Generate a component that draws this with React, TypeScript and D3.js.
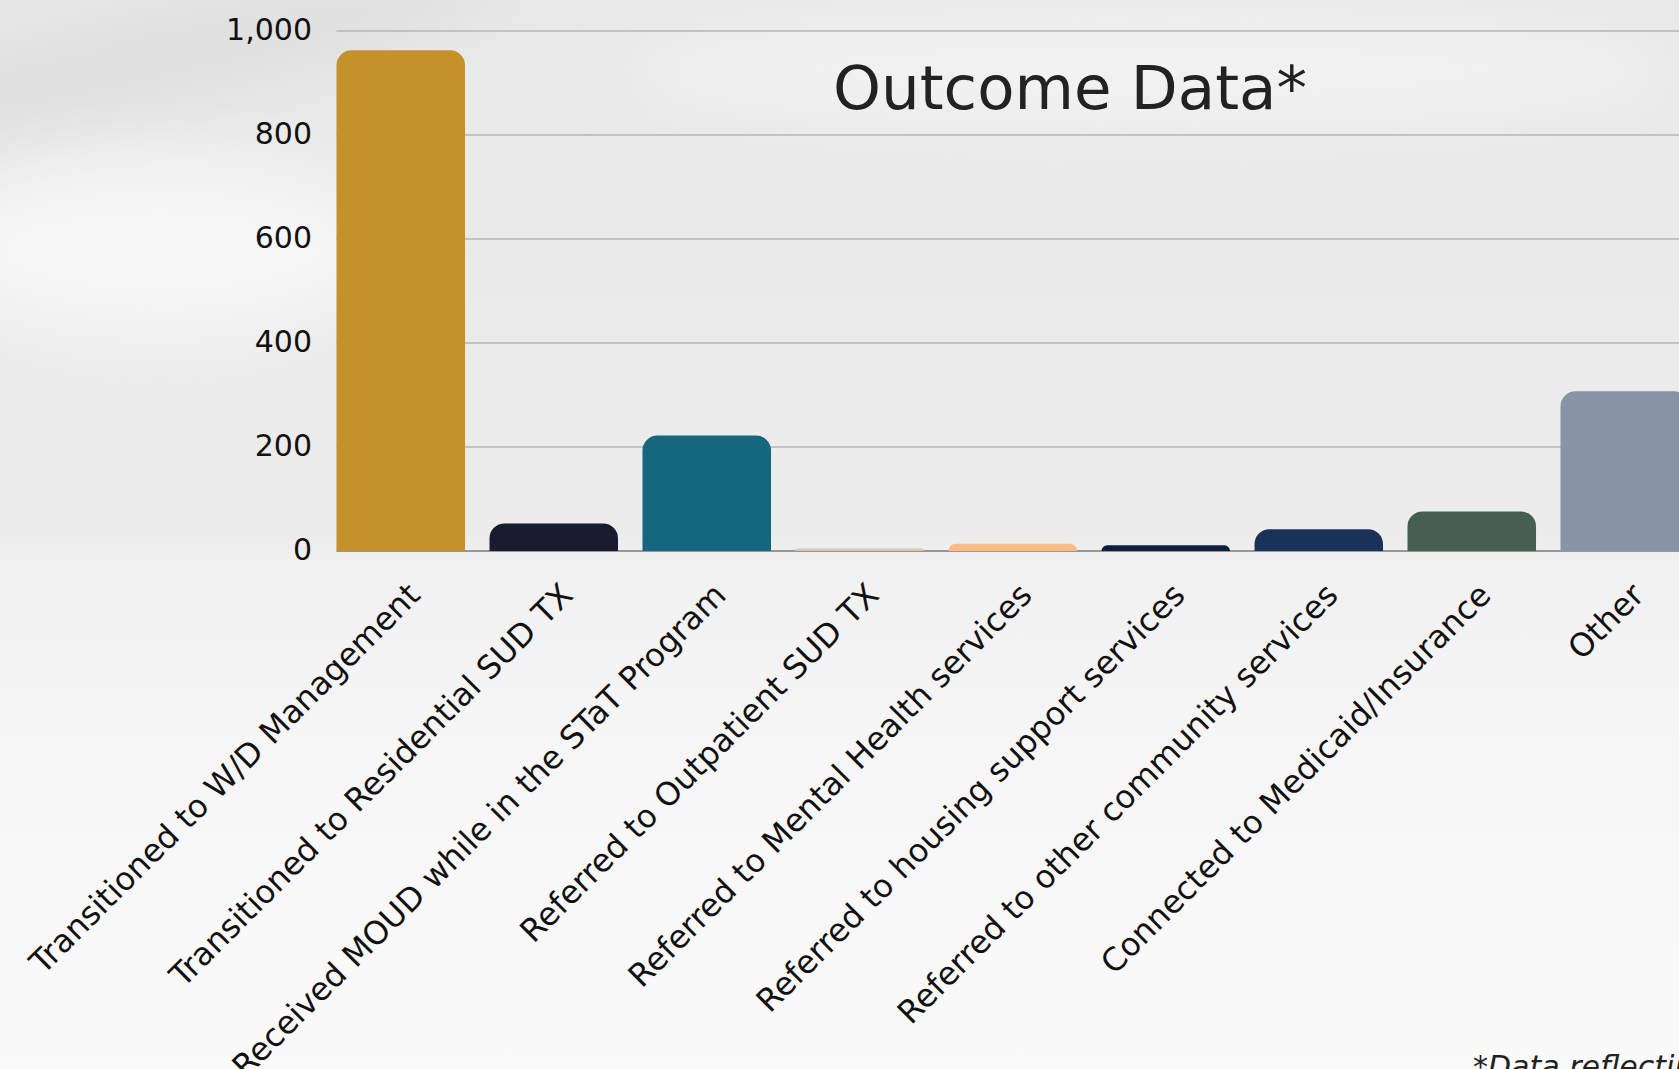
import React, { useEffect } from 'react';
import * as d3 from 'd3';

const categories = [
  'Transitioned to W/D Management',
  'Transitioned to Residential SUD TX',
  'Received MOUD while in the STaT Program',
  'Referred to Outpatient SUD TX',
  'Referred to Mental Health services',
  'Referred to housing support services',
  'Referred to other community services',
  'Connected to Medicaid/Insurance',
  'Other',
];
const values = [963, 53, 222, 5, 14, 11, 42, 76, 307];
const barColors = ['#c6912b', '#1b1b2f', '#15667e', '#d4c8ae', '#ffbb84', '#0e1e3c', '#1b3258', '#475f52', '#8894a5'];
const yTicks = [0, 200, 400, 600, 800, 1000];
const title = 'Outcome Data*';
const footnote = '*Data reflecting';

const W = 1679;
const H = 1069;
const FONT = "'DejaVu Sans', 'Noto Sans', sans-serif";

function barPath(x0: number, x1: number, yTop: number, yBase: number, rMax: number) {
  const h = yBase - yTop;
  const r = Math.max(0, Math.min(rMax, h, (x1 - x0) / 2));
  return `M${x0},${yBase}V${yTop + r}A${r},${r} 0 0 1 ${x0 + r},${yTop}H${x1 - r}A${r},${r} 0 0 1 ${x1},${yTop + r}V${yBase}Z`;
}

export default function App() {
  useEffect(() => {
    document.body.style.margin = '0';
    document.body.style.overflow = 'hidden';
  }, []);

  const x = d3
    .scaleBand<string>()
    .domain(categories)
    .range([336.5, 336.5 + 153 * 8.84])
    .paddingInner(0.16)
    .paddingOuter(0);
  const y = d3.scaleLinear().domain([0, 1000]).range([551, 31]);
  const fmt = d3.format(',');
  const bw = x.bandwidth();

  return (
    <svg width={W} height={H} style={{ position: 'absolute', left: 0, top: 0, display: 'block' }}>
      <defs>
        <linearGradient id="bg" x1="0" y1="0" x2="0" y2="1">
          <stop offset="0" stopColor="#e9e9e9" />
          <stop offset="0.5" stopColor="#ececec" />
          <stop offset="0.53" stopColor="#f1f1f1" />
          <stop offset="0.7" stopColor="#f6f6f6" />
          <stop offset="1" stopColor="#fafafa" />
        </linearGradient>
        <filter id="blur" x="-50%" y="-50%" width="200%" height="200%">
          <feGaussianBlur stdDeviation="30" />
        </filter>
      </defs>
      <rect x={0} y={0} width={W} height={H} fill="url(#bg)" />
      <ellipse cx={140} cy={60} rx={380} ry={55} fill="#e0e0e0" filter="url(#blur)" transform="rotate(-12 140 60)" />
      <ellipse cx={160} cy={250} rx={230} ry={90} fill="#f6f6f6" filter="url(#blur)" />
      <ellipse cx={1150} cy={70} rx={520} ry={50} fill="#f2f2f2" filter="url(#blur)" />

      {/* gridlines */}
      {yTicks.map((t) => (
        <line
          key={t}
          x1={336.5}
          x2={W}
          y1={y(t)}
          y2={y(t)}
          stroke={t === 0 ? '#7a7a7a' : '#b5b5b5'}
          strokeWidth={t === 0 ? 1.6 : 1.4}
        />
      ))}

      {/* y tick labels */}
      {yTicks.map((t) => (
        <text key={'l' + t} x={312} y={y(t) + 8.5} textAnchor="end" fontFamily={FONT} fontSize={30} fill="#111">
          {fmt(t)}
        </text>
      ))}

      {/* bars */}
      {categories.map((c, i) => {
        const x0 = x(c) as number;
        return <path key={c} d={barPath(x0, x0 + bw, y(values[i]), y(0), 15)} fill={barColors[i]} />;
      })}

      {/* category labels */}
      {categories.map((c) => {
        const cx = (x(c) as number) + bw / 2;
        return (
          <text
            key={'c' + c}
            transform={`translate(${cx + 21},597) rotate(-45)`}
            textAnchor="end"
            fontFamily={FONT}
            fontSize={32}
            fill="#111"
          >
            {c}
          </text>
        );
      })}

      <text x={1070} y={109} textAnchor="middle" fontFamily={FONT} fontSize={61} fill="#222">
        {title}
      </text>

      <text x={1473} y={1077} fontFamily={FONT} fontStyle="italic" fontSize={30} fill="#222">
        {footnote}
      </text>
    </svg>
  );
}
